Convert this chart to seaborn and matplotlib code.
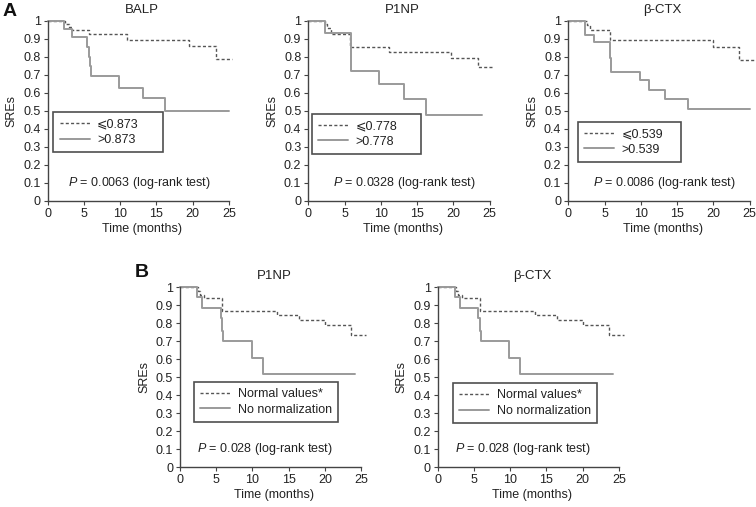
#!/usr/bin/env python3

import matplotlib
matplotlib.use("Agg")
import matplotlib.pyplot as plt
from matplotlib.lines import Line2D
from matplotlib.ticker import FuncFormatter
import pandas as pd
import seaborn as sns

# Kaplan-Meier steps (time in months, fraction free of SREs)
balp_low_t = [0, 2.4, 2.9, 3.4, 5.7, 11.0, 19.5, 23.2, 25.4]
balp_low_s = [1, 0.985, 0.967, 0.952, 0.926, 0.895, 0.86, 0.787, 0.787]
balp_high_t = [0, 2.3, 3.4, 5.5, 5.7, 5.8, 6.0, 9.8, 13.1, 16.2, 25.0]
balp_high_s = [1, 0.955, 0.911, 0.856, 0.80, 0.75, 0.693, 0.630, 0.573, 0.50, 0.50]

p1np_low_t = [0, 2.3, 2.6, 3.2, 5.8, 11.1, 19.7, 23.4, 25.6]
p1np_low_s = [1, 0.985, 0.96, 0.925, 0.853, 0.829, 0.797, 0.746, 0.746]
p1np_high_t = [0, 2.3, 5.9, 9.8, 13.2, 16.3, 24.0]
p1np_high_s = [1, 0.936, 0.724, 0.65, 0.565, 0.475, 0.475]

ctx_low_t = [0, 2.6, 3.0, 5.8, 19.9, 23.6, 25.8]
ctx_low_s = [1, 0.98, 0.952, 0.897, 0.856, 0.783, 0.783]
ctx_high_t = [0, 2.3, 3.6, 5.7, 5.9, 9.9, 11.2, 13.3, 16.5, 25.0]
ctx_high_s = [1, 0.924, 0.884, 0.797, 0.718, 0.672, 0.617, 0.567, 0.512, 0.512]

norm_t = [0, 2.5, 2.8, 3.3, 5.8, 13.4, 16.4, 20.0, 23.6, 25.7]
norm_s = [1, 0.98, 0.96, 0.94, 0.87, 0.848, 0.821, 0.792, 0.736, 0.736]
nonorm_t = [0, 2.4, 3.1, 5.6, 5.8, 6.0, 9.9, 11.4, 24.2]
nonorm_s = [1, 0.946, 0.887, 0.83, 0.76, 0.70, 0.608, 0.52, 0.52]

y_ticks = [0, 0.1, 0.2, 0.3, 0.4, 0.5, 0.6, 0.7, 0.8, 0.9, 1]
x_ticks = [0, 5, 10, 15, 20, 25]

DASH_COLOR = "#555555"
SOLID_COLOR = "#9a9a9a"
AXIS_COLOR = "#444444"
TEXT_COLOR = "#222222"
DASHES = (2.2, 1.6)


def draw_panel(ax, title, low, high, labels, p_text, legend_xy, p_x,
               legend_width=None):
    for (t, s), dashed, color, lw in [
        (low, True, DASH_COLOR, 1.0),
        (high, False, SOLID_COLOR, 1.4),
    ]:
        df = pd.DataFrame({"time": t, "sre": s})
        line_ax = sns.lineplot(
            data=df, x="time", y="sre", ax=ax,
            estimator=None, sort=False, drawstyle="steps-post",
            color=color, linewidth=lw, clip_on=False,
        )
        if dashed:
            line_ax.lines[-1].set_dashes(DASHES)
    ax.set_xlim(0, 26)
    ax.set_ylim(0, 1)
    ax.set_xticks(x_ticks)
    ax.set_yticks(y_ticks)
    ax.yaxis.set_major_formatter(
        FuncFormatter(lambda v, _: "%g" % round(v, 1))
    )
    ax.spines["bottom"].set_bounds(0, 25)
    sns.despine(ax=ax)
    for side in ("left", "bottom"):
        ax.spines[side].set_color(AXIS_COLOR)
        ax.spines[side].set_linewidth(1.0)
    ax.tick_params(
        direction="out", length=3, width=0.8, color=AXIS_COLOR,
        labelsize=9, pad=2, labelcolor=TEXT_COLOR,
    )
    ax.set_title(title, fontsize=9.5, pad=6, color=TEXT_COLOR)
    ax.set_xlabel("Time (months)", fontsize=9, labelpad=2, color=TEXT_COLOR)
    ax.set_ylabel("SREs", fontsize=9, labelpad=4, color=TEXT_COLOR)

    dash_handle = Line2D([], [], color=DASH_COLOR, linewidth=1.0)
    dash_handle.set_dashes(DASHES)
    handles = [
        dash_handle,
        Line2D([], [], linestyle="-", color=SOLID_COLOR, linewidth=1.4),
    ]
    x0, top = legend_xy
    if legend_width:
        anchor = (x0, top - 0.3, legend_width, 0.3)
        mode = "expand"
    else:
        anchor = (x0, top)
        mode = None
    leg = ax.legend(
        handles, labels, loc="upper left", bbox_to_anchor=anchor,
        mode=mode, fontsize=9, frameon=True, fancybox=False,
        handlelength=2.4, handletextpad=0.6, borderpad=0.5,
        labelspacing=0.3, borderaxespad=0,
    )
    frame = leg.get_frame()
    frame.set_edgecolor(TEXT_COLOR)
    frame.set_linewidth(1.2)
    for txt in leg.get_texts():
        txt.set_color(TEXT_COLOR)

    ax.text(p_x, 0.10, p_text, transform=ax.get_xaxis_transform(),
            ha="center", va="center", fontsize=9, color=TEXT_COLOR)


def main():
    sns.set_style("ticks")
    plt.rcParams["font.family"] = ["Liberation Sans", "DejaVu Sans"]
    plt.rcParams["mathtext.fontset"] = "custom"
    plt.rcParams["mathtext.it"] = "Liberation Sans:italic"
    plt.rcParams["mathtext.rm"] = "Liberation Sans"

    fig = plt.figure(figsize=(7.56, 5.07), dpi=100)
    w, h = 0.2493, 0.355
    ax_a1 = fig.add_axes([0.063, 0.6036, w, h])
    ax_a2 = fig.add_axes([0.4078, 0.6036, w, h])
    ax_a3 = fig.add_axes([0.7517, 0.6036, w, h])
    ax_b1 = fig.add_axes([0.2381, 0.0783, w, h])
    ax_b2 = fig.add_axes([0.579, 0.0783, w, h])

    draw_panel(ax_a1, "BALP", (balp_low_t, balp_low_s),
               (balp_high_t, balp_high_s), ["⩽0.873", ">0.873"],
               "$P$ = 0.0063 (log-rank test)", (0.03, 0.495), 12.7,
               legend_width=0.58)
    draw_panel(ax_a2, "P1NP", (p1np_low_t, p1np_low_s),
               (p1np_high_t, p1np_high_s), ["⩽0.778", ">0.778"],
               "$P$ = 0.0328 (log-rank test)", (0.018, 0.484), 13.2,
               legend_width=0.58)
    draw_panel(ax_a3, "β-CTX", (ctx_low_t, ctx_low_s),
               (ctx_high_t, ctx_high_s), ["⩽0.539", ">0.539"],
               "$P$ = 0.0086 (log-rank test)", (0.05, 0.44), 13.2,
               legend_width=0.55)
    draw_panel(ax_b1, "P1NP", (norm_t, norm_s), (nonorm_t, nonorm_s),
               ["Normal values*", "No normalization"],
               "$P$ = 0.028 (log-rank test)", (0.075, 0.476), 11.7)
    draw_panel(ax_b2, "β-CTX", (norm_t, norm_s), (nonorm_t, nonorm_s),
               ["Normal values*", "No normalization"],
               "$P$ = 0.028 (log-rank test)", (0.08, 0.468), 11.8)

    fig.text(0.003, 0.995, "A", fontsize=14, fontweight="bold",
             ha="left", va="top", color="#111111")
    fig.text(0.178, 0.48, "B", fontsize=14, fontweight="bold",
             ha="left", va="top", color="#111111")

    fig.savefig("out.png", dpi=100)


if __name__ == "__main__":
    main()
